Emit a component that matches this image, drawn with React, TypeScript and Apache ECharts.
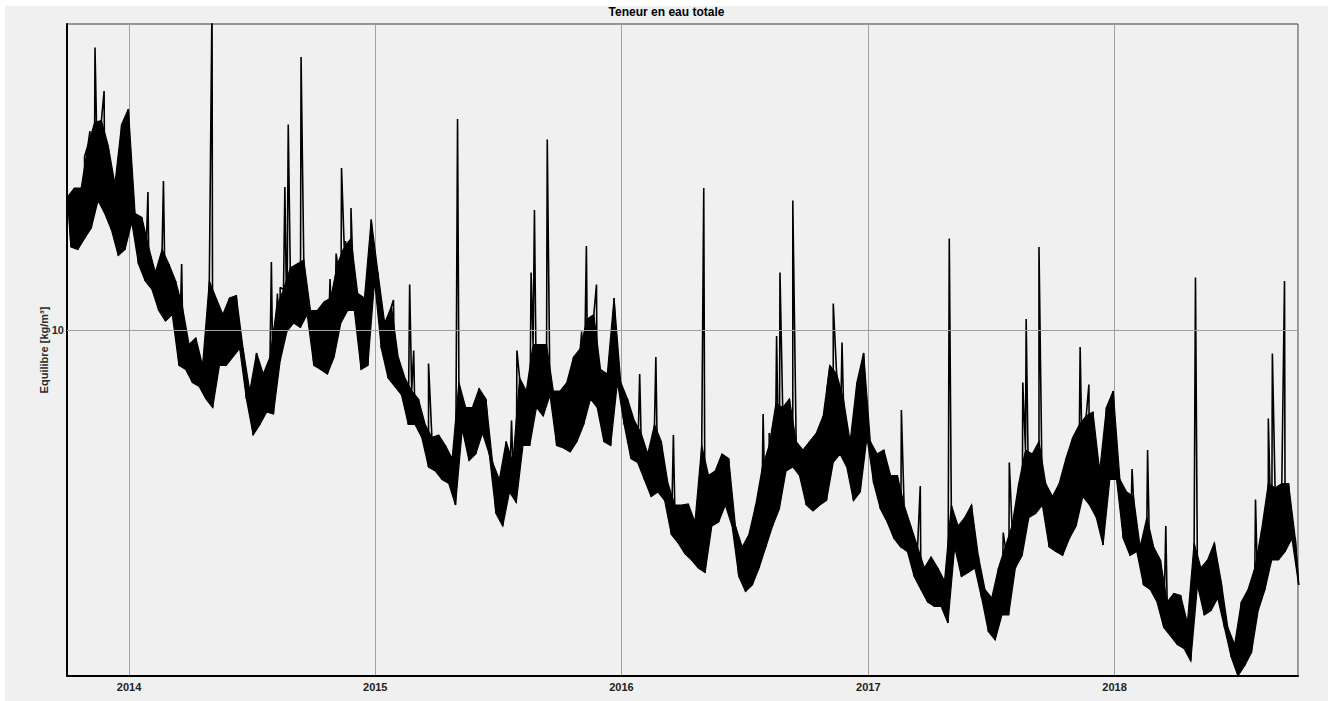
import React, { useEffect, useRef } from "react";
import * as echarts from "echarts";

// Data start (2013-10-01) and span in days
const START = Date.UTC(2013, 9, 1);
const SPAN_DAYS = 1825;
const DAY = 86400000;
const COLUMN_DAYS = 10;

// Upper / lower envelope of the daily band, one pair per 10-day column
const highs = [
  12.67, 12.84, 12.84, 13.69, 14.15, 14.19, 13.69, 12.92, 14.11, 14.42,
  12.33, 12.25, 11.66, 11.15, 11.61, 11.32, 10.98, 10.47, 9.71, 9.84,
  9.29, 10.98, 10.64, 10.31, 10.64, 10.69, 9.63, 8.78, 9.54, 9.12,
  9.46, 10.47, 10.81, 11.24, 11.32, 11.4, 10.39, 10.39, 10.56, 10.64,
  11.32, 11.66, 11.83, 10.73, 10.64, 12.21, 11.15, 10.14, 10.47, 9.46,
  9.04, 8.78, 8.62, 8.11, 7.85, 7.9, 7.69, 7.43, 8.95, 8.45,
  8.45, 8.83, 8.62, 7.35, 7.01, 7.77, 7.35, 9.04, 8.78, 9.71,
  9.71, 9.71, 8.78, 8.78, 8.95, 9.46, 9.63, 10.22, 10.31, 9.21,
  9.12, 10.64, 8.95, 8.62, 8.19, 7.94, 7.52, 8.11, 7.77, 6.93,
  6.5, 6.5, 6.52, 6.16, 7.69, 7.09, 7.18, 7.52, 7.43, 6.08,
  5.66, 5.91, 6.5, 7.26, 7.69, 8.53, 8.45, 8.62, 7.77, 7.6,
  7.77, 7.94, 8.28, 9.29, 9.12, 8.62, 7.77, 8.95, 9.54, 7.77,
  7.52, 7.6, 7.09, 7.09, 6.5, 6.08, 5.66, 5.24, 5.46, 5.24,
  4.98, 6.5, 6.08, 6.25, 6.5, 5.49, 4.81, 4.64, 5.24, 5.66,
  6.08, 6.93, 7.6, 7.52, 7.77, 6.93, 6.67, 6.93, 7.43, 7.85,
  8.11, 8.28, 8.36, 7.18, 8.45, 8.78, 7.01, 6.76, 6.67, 5.66,
  6.25, 5.66, 5.4, 4.56, 4.73, 4.69, 4.14, 5.74, 5.24, 5.4,
  5.74, 4.98, 4.05, 3.71, 4.56, 4.81, 5.24, 6.0, 6.93, 6.84,
  6.93, 6.93, 5.83,
];
const lows = [
  11.66, 11.61, 11.83, 12.04, 12.59, 12.33, 12.0, 11.49, 11.61, 12.16,
  11.32, 10.98, 10.81, 10.39, 10.18, 10.31, 9.29, 9.21, 8.95, 8.87,
  8.62, 8.45, 9.29, 9.29, 9.46, 9.63, 8.62, 7.9, 8.11, 8.36,
  8.32, 9.38, 9.97, 10.14, 10.05, 10.31, 9.29, 9.21, 9.12, 9.46,
  10.14, 10.39, 10.39, 9.21, 9.29, 10.98, 9.63, 9.04, 8.87, 8.7,
  8.11, 8.11, 7.85, 7.26, 7.18, 7.01, 6.93, 6.5, 8.02, 7.39,
  7.52, 7.94, 7.52, 6.33, 6.08, 6.76, 6.55, 7.69, 7.69, 8.45,
  8.28, 8.7, 7.69, 7.64, 7.56, 7.77, 8.11, 8.62, 8.45, 7.77,
  7.69, 8.95, 8.11, 7.43, 7.35, 7.01, 6.67, 6.76, 6.59, 5.91,
  5.74, 5.53, 5.4, 5.24, 5.15, 6.08, 6.16, 6.5, 6.08, 5.07,
  4.77, 4.9, 5.24, 5.66, 6.08, 6.42, 7.18, 7.26, 7.09, 6.5,
  6.38, 6.5, 6.59, 7.35, 7.52, 7.26, 6.59, 6.76, 7.85, 6.93,
  6.42, 6.16, 5.83, 5.66, 5.57, 5.07, 4.81, 4.56, 4.47, 4.47,
  4.14, 5.66, 5.07, 5.15, 5.24, 4.64, 3.97, 3.8, 4.3, 4.3,
  5.24, 5.49, 6.25, 6.33, 6.5, 5.66, 5.57, 5.49, 5.83, 6.08,
  6.67, 6.5, 6.25, 5.7, 7.01, 7.01, 5.83, 5.49, 5.57, 4.9,
  4.81, 4.56, 4.05, 3.88, 3.71, 3.63, 3.38, 4.9, 4.3, 4.39,
  4.64, 4.05, 3.46, 3.08, 3.29, 3.55, 4.39, 4.81, 5.4, 5.4,
  5.57, 5.83, 4.9,
];

// Short single-day peaks: day offset from start, value
const spikeDays = [
  26, 34, 41.5, 55, 120, 143, 170, 215, 303, 312, 316, 323, 328, 347, 390, 399,
  407, 413, 421, 484, 508, 514, 536, 579, 659, 667, 688, 693, 712, 763, 770, 785,
  849, 873, 899, 944, 1032, 1041, 1052, 1057, 1076, 1127, 1136, 1149, 1237, 1265,
  1308, 1388, 1397, 1417, 1422, 1441, 1502, 1515, 1568, 1579, 1602, 1629, 1673,
  1762, 1781, 1787, 1805,
];
const spikeValues = [
  13.47, 13.98, 15.65, 14.78, 12.76, 12.98, 11.32, 16.6, 11.36, 10.73, 10.85,
  12.86, 14.11, 15.46, 11.02, 11.53, 13.24, 11.78, 12.44, 10.6, 10.91, 9.59, 9.33,
  14.22, 8.19, 9.59, 11.15, 12.4, 13.81, 9.97, 11.68, 10.91, 9.12, 9.46, 7.9,
  12.84, 8.32, 7.94, 9.88, 11.15, 12.59, 8.83, 10.53, 9.75, 8.4, 6.88, 11.83,
  5.95, 7.35, 8.95, 10.22, 11.66, 9.66, 8.91, 6.71, 7.22, 7.6, 6.08, 11.05, 6.61,
  8.23, 9.53, 10.98,
];

const Y_MIN = 3.08;
const Y_MAX = 16.12;
const Y_REF = 10;

const TITLE = "Teneur en eau totale";
const Y_NAME = "Equilibre [kg/m³]";

export default function App() {
  const ref = useRef<HTMLDivElement>(null);

  useEffect(() => {
    if (!ref.current) return;
    const chart = echarts.init(ref.current, undefined, { renderer: "svg" });

    const hiPts: [number, number][] = highs.map((h, i) => [START + (i * COLUMN_DAYS + 1) * DAY, h]);
    const loPts: [number, number][] = lows.map((l, i) => [START + (i * COLUMN_DAYS + 6) * DAY, l]);

    const pts: [number, number][] = [];
    highs.forEach((_, i) => {
      pts.push(hiPts[i]);
      pts.push(loPts[i]);
    });
    spikeDays.forEach((d, k) => pts.push([START + d * DAY, spikeValues[k]]));
    pts.sort((a, b) => a[0] - b[0]);

    const font = "Arial, 'Liberation Sans', sans-serif";

    chart.setOption({
      animation: false,
      backgroundColor: "#f0f0f0",
      title: {
        text: TITLE,
        left: "center",
        top: 0,
        padding: 0,
        textStyle: { fontSize: 12, fontWeight: "bold", color: "#000", fontFamily: font },
      },
      grid: {
        left: 62,
        top: 18,
        right: 30,
        bottom: 25,
        show: true,
        borderColor: "#3c3c3c",
        borderWidth: 1,
        backgroundColor: "transparent",
      },
      xAxis: {
        type: "time",
        min: START,
        max: START + SPAN_DAYS * DAY,
        minInterval: 360 * DAY,
        axisLine: { show: true, lineStyle: { color: "#000", width: 2 } },
        axisTick: { show: false },
        splitLine: { show: true, lineStyle: { color: "#a0a0a0", width: 1 } },
        axisLabel: {
          formatter: "{yyyy}",
          fontSize: 11,
          fontWeight: "bold",
          color: "#222",
          fontFamily: font,
          margin: 5,
          showMinLabel: false,
          showMaxLabel: false,
        },
      },
      yAxis: {
        type: "value",
        min: Y_MIN,
        max: Y_MAX,
        name: Y_NAME,
        nameLocation: "middle",
        nameGap: 18,
        nameTextStyle: { fontSize: 11, fontWeight: "bold", color: "#2b2b2b", fontFamily: font },
        axisLine: { show: true, lineStyle: { color: "#000", width: 2 } },
        axisTick: { show: false },
        axisLabel: { show: false },
        splitLine: { show: false },
      },
      series: [
        {
          type: "line",
          data: [],
          z: 1,
          markLine: {
            silent: true,
            symbol: "none",
            lineStyle: { color: "#a0a0a0", width: 1, type: "solid" },
            label: {
              show: true,
              position: "start",
              formatter: String(Y_REF),
              fontSize: 11,
              fontWeight: "bold",
              color: "#2b2b2b",
              fontFamily: font,
              distance: 3,
            },
            data: [{ yAxis: Y_REF }],
          },
        },
        {
          type: "custom",
          z: 2,
          silent: true,
          data: [[START, Y_REF]],
          renderItem: (_params: any, api: any) => {
            const points: number[][] = [];
            hiPts.forEach((p) => points.push(api.coord(p)));
            for (let i = loPts.length - 1; i >= 0; i--) points.push(api.coord(loPts[i]));
            return {
              type: "polygon",
              shape: { points },
              style: { fill: "#000", stroke: "#000", lineWidth: 1.2 },
            };
          },
        },
        {
          type: "line",
          data: pts,
          z: 3,
          showSymbol: false,
          symbol: "none",
          clip: true,
          lineStyle: { color: "#000", width: 1.6 },
        },
      ],
    });

    return () => chart.dispose();
  }, []);

  return (
    <div style={{ position: "fixed", left: 0, top: 0, width: 1328, height: 701, background: "#fff" }}>
      <div ref={ref} style={{ position: "absolute", left: 5, top: 6, width: 1323, height: 695 }} />
    </div>
  );
}
